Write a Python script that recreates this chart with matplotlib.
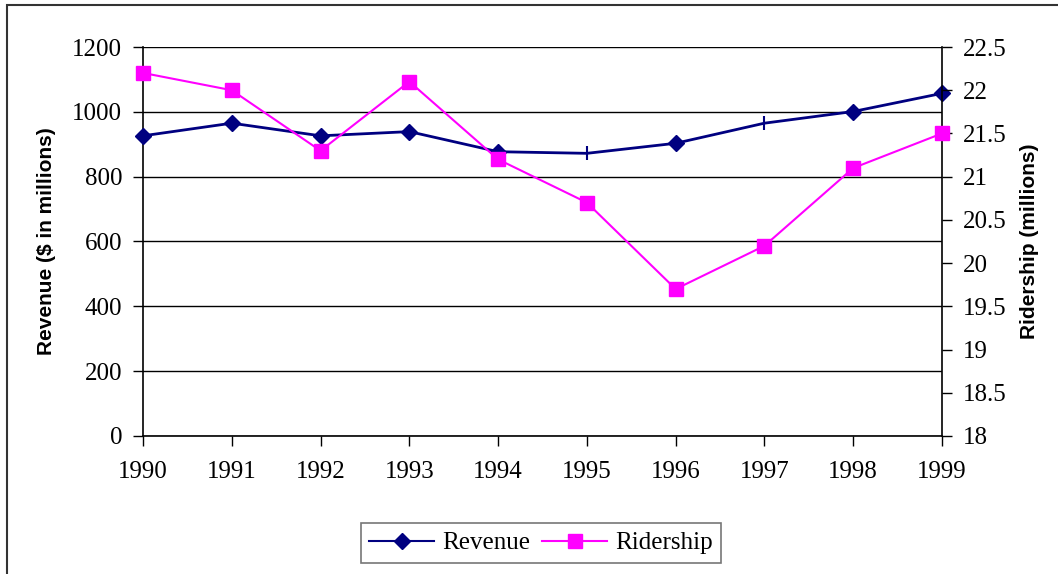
import matplotlib.pyplot as plt
from matplotlib.patches import Rectangle
from matplotlib.lines import Line2D

years = [1990, 1991, 1992, 1993, 1994, 1995, 1996, 1997, 1998, 1999]
revenue = [926, 965, 926, 939, 877, 872, 903, 965, 1001, 1057]
ridership = [22.2, 22.0, 21.3, 22.1, 21.2, 20.7, 19.7, 20.2, 21.1, 21.5]
# in the source the 1995 and 1997 revenue markers show as short ticks
tick_years = [1995, 1997]

navy = '#000080'
pink = '#ff00ff'
serif = 'Liberation Serif'
sans = 'Liberation Sans'

W, H = 1058, 574
fig = plt.figure(figsize=(W / 100, H / 100), dpi=100, facecolor='w')
ax = fig.add_axes([143 / W, 1 - 436 / H, (942 - 143) / W, (436 - 47) / H])
ax2 = ax.twinx()

# outer frame, cut off at right and bottom like the source
fig.patches.append(Rectangle((7 / W, -0.1), 1.2, 1 - 5 / H + 0.1,
                             transform=fig.transFigure, fill=False,
                             edgecolor='#333333', lw=1.5))

x = list(range(len(years)))
ax.plot(x, revenue, color=navy, lw=2, zorder=3)
dia = [i for i, y in enumerate(years) if y not in tick_years]
tk = [i for i, y in enumerate(years) if y in tick_years]
ax.plot([x[i] for i in dia], [revenue[i] for i in dia], 'D', color=navy,
        ms=8, zorder=4, clip_on=False)
ax.plot([x[i] for i in tk], [revenue[i] for i in tk], '|', color=navy,
        ms=10, mew=1.5, zorder=4)

ax2.plot(x, ridership, color=pink, lw=1.5, marker='s', ms=10, mec=pink,
         clip_on=False, zorder=3)

ax.set_xlim(0, len(years) - 1)
ax.set_ylim(0, 1200)
ax.set_yticks(range(0, 1201, 200))
ax2.set_ylim(18, 22.5)
ax2.set_yticks([18 + 0.5 * i for i in range(10)])
ax2.set_yticklabels(['18', '18.5', '19', '19.5', '20', '20.5', '21', '21.5', '22', '22.5'])
ax.set_xticks(x)
ax.set_xticklabels([str(y) for y in years])

ax.grid(axis='y', color='black', lw=1)
ax.set_axisbelow(True)
for a in (ax, ax2):
    a.spines['top'].set_visible(False)
    for s in ('left', 'right', 'bottom'):
        a.spines[s].set_linewidth(1.2)
ax.spines['right'].set_visible(False)
ax2.spines['left'].set_visible(False)
ax2.spines['bottom'].set_visible(False)

ax.tick_params(axis='both', direction='out', length=7, width=1, labelsize=18,
               pad=8, colors='black')
ax2.tick_params(axis='y', direction='out', length=7, width=1, labelsize=18,
                pad=8)
for lab in ax.get_xticklabels() + ax.get_yticklabels() + ax2.get_yticklabels():
    lab.set_fontfamily(serif)
ax.tick_params(axis='x', pad=11)

ax.set_ylabel('Revenue ($ in millions)', fontfamily=sans, fontweight='bold',
              fontsize=15, labelpad=12)
ax2.set_ylabel('Ridership (millions)', fontfamily=sans, fontweight='bold',
               fontsize=15, labelpad=10)

handles = [Line2D([], [], color=navy, lw=1.5, marker='D', ms=8),
           Line2D([], [], color=pink, lw=1.5, marker='s', ms=10)]
leg = fig.legend(handles, ['Revenue', 'Ridership'], loc='center',
                 bbox_to_anchor=(541 / W, 1 - 543 / H), ncol=2,
                 prop={'family': serif, 'size': 18}, frameon=True,
                 fancybox=False, edgecolor='#555555', handlelength=2.6,
                 columnspacing=0.5, handletextpad=0.3, borderpad=0.35)
leg.get_frame().set_linewidth(1.2)

fig.savefig('out.png', dpi=100)
